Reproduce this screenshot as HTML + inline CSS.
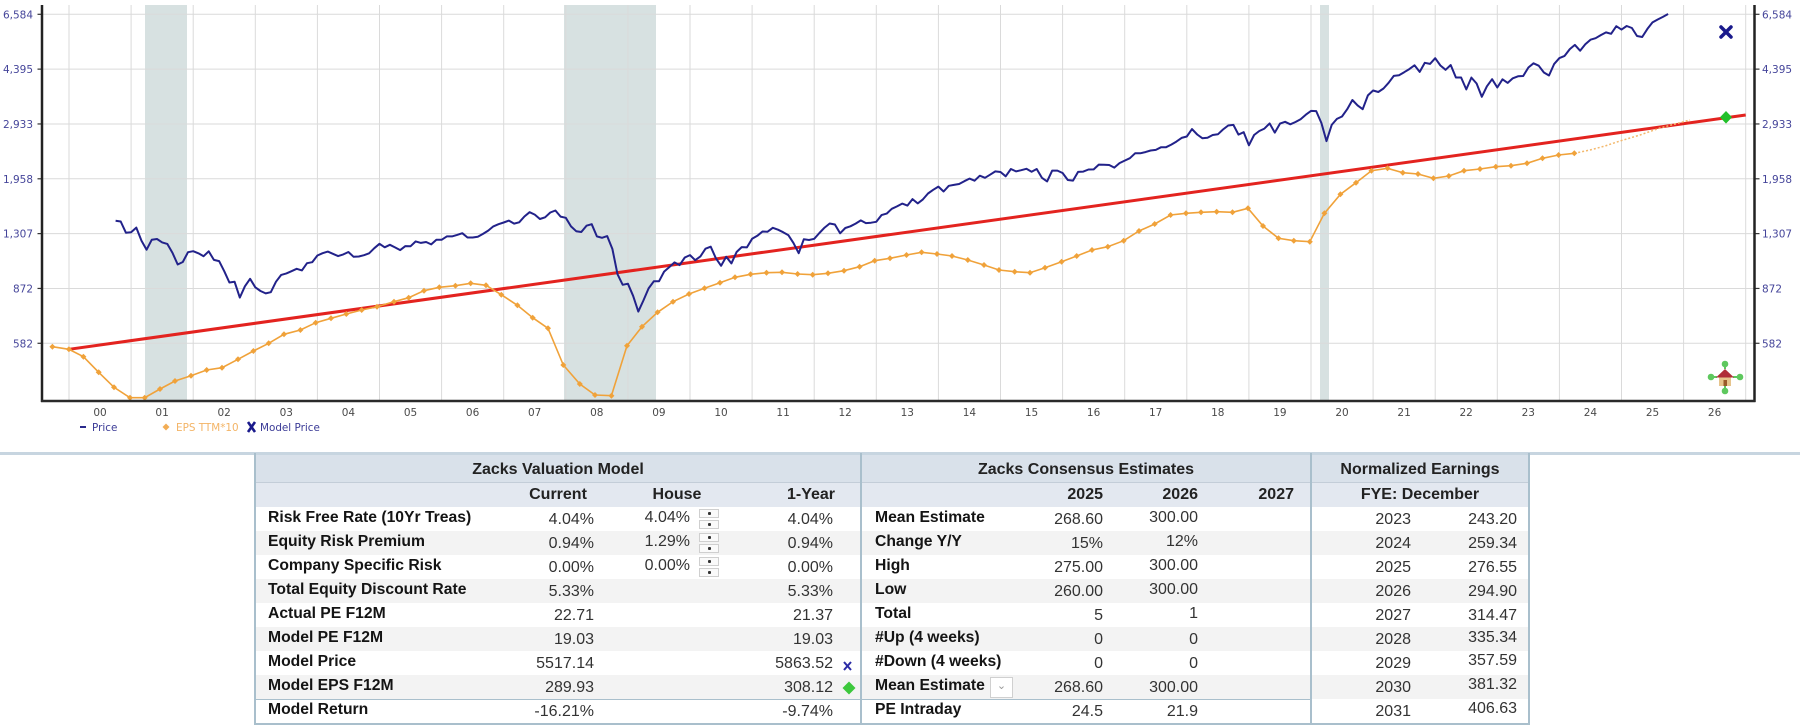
<!DOCTYPE html>
<html><head><meta charset="utf-8">
<style>
html,body{margin:0;padding:0;background:#fff;}
body{width:1800px;height:726px;overflow:hidden;position:relative;font-family:"Liberation Sans",Arial,sans-serif;}
.t{position:absolute;white-space:nowrap;line-height:1;}
.l{font-weight:bold;font-size:15.7px;color:#141414;}
.v{font-size:16px;color:#333;text-align:right;width:120px;}
.h{font-weight:bold;font-size:16px;color:#222;text-align:center;}
.box{position:absolute;}
.sp{position:absolute;width:20px;height:9px;background:#fafafa;border:1px solid #cfcfcf;box-sizing:border-box;}
.sp:after{content:"";position:absolute;left:8px;top:2px;width:3px;height:3px;background:#333;border-radius:1px;}
</style></head><body>

<svg id="ch" width="1800" height="450" style="position:absolute;left:0;top:0" xmlns="http://www.w3.org/2000/svg">
  <g fill="#d7e1e1">
    <rect x="145" y="5" width="42" height="396"/>
    <rect x="564" y="5" width="92" height="396"/>
    <rect x="1320" y="5" width="9" height="396"/>
  </g>
  <g id="grid" stroke="#dadada" stroke-width="1"></g>
  <g id="labels" font-family="'DejaVu Sans',Verdana,sans-serif" font-size="10.5"></g>
  <line x1="69" y1="349.3" x2="1745.7" y2="115" stroke="#e3231f" stroke-width="3"/>
  <polyline id="dot" fill="none" stroke="#f3b86c" stroke-width="1.5" stroke-dasharray="2,2"
    points="1574.3,153.3 1590,150 1605,146 1620,141 1640,135 1660,128 1690,120"/>
  <polyline id="eps" fill="none" stroke="#f0a23a" stroke-width="1.6" points=""/>
  <g id="epsm" fill="#f0a23a"></g>
  <path id="price" fill="none" stroke="#22228a" stroke-width="2" stroke-linejoin="round" d=""/>
  <!-- axes -->
  <line x1="42" y1="5" x2="42" y2="402" stroke="#222" stroke-width="2.5"/>
  <line x1="1754.5" y1="5" x2="1754.5" y2="402" stroke="#222" stroke-width="2.5"/>
  <line x1="41" y1="401" x2="1755.5" y2="401" stroke="#2a2a2a" stroke-width="2.5"/>
  <!-- model price X -->
  <g stroke="#1a1a8c" stroke-width="3.5" stroke-linecap="round">
    <line x1="1721" y1="27" x2="1731" y2="37"/><line x1="1731" y1="27" x2="1721" y2="37"/>
  </g>
  <polygon points="1726,111 1732,117.3 1726,123.6 1720,117.3" fill="#22c02a"/>
  <!-- home/pan icon -->
  <g>
    <g fill="#5ec85e">
      <circle cx="1725" cy="364" r="3.3"/><circle cx="1711" cy="377" r="3.3"/>
      <circle cx="1740" cy="377" r="3.3"/><circle cx="1725" cy="391" r="3.3"/>
    </g>
    <g stroke="#5ec85e" stroke-width="2">
      <line x1="1725" y1="366" x2="1725" y2="369"/><line x1="1714" y1="377" x2="1717" y2="377"/>
      <line x1="1733" y1="377" x2="1737" y2="377"/><line x1="1725" y1="386" x2="1725" y2="389"/>
    </g>
    <rect x="1719" y="376" width="12" height="10" fill="#e6c48c"/>
    <polygon points="1716,377.5 1725,369 1734,377.5" fill="#b02e38"/>
    <rect x="1723.5" y="380" width="3.5" height="6" fill="#9a5a2a"/>
  </g>
  <!-- legend -->
  <g font-family="'DejaVu Sans',Verdana,sans-serif" font-size="10.4">
    <line x1="80" y1="427" x2="86" y2="427" stroke="#2a2a8c" stroke-width="2"/>
    <text x="92" y="431" fill="#3a3a96">Price</text>
    <polygon points="166,423.5 169.5,427 166,430.5 162.5,427" fill="#f2ad55"/>
    <text x="176" y="431" fill="#f3b466">EPS TTM*10</text>
    <g stroke="#1a1a8c" stroke-width="2.6"><line x1="248" y1="422" x2="255" y2="432"/><line x1="255" y1="422" x2="248" y2="432"/></g>
    <text x="260" y="431" fill="#3a3a96">Model Price</text>
  </g>
</svg>

<!-- separator -->
<div class="box" style="left:0;top:452px;width:1800px;height:3px;background:#c7d5e0"></div>

<!-- table backgrounds -->
<div class="box" style="left:256px;top:455px;width:1272px;height:27px;background:#d9e1ea"></div>
<div class="box" style="left:256px;top:482px;width:1272px;height:1px;background:#c3cdd8"></div>
<div class="box" style="left:256px;top:483px;width:1272px;height:24px;background:#e3e8f0"></div>
<div class="box" style="left:256px;top:531px;width:1272px;height:24px;background:#f3f3f3"></div>
<div class="box" style="left:256px;top:579px;width:1272px;height:24px;background:#f3f3f3"></div>
<div class="box" style="left:256px;top:627px;width:1272px;height:24px;background:#f3f3f3"></div>
<div class="box" style="left:256px;top:675px;width:1272px;height:24px;background:#f3f3f3"></div>
<div class="box" style="left:256px;top:699px;width:1054px;height:1px;background:#a9bfcc"></div>
<!-- borders -->
<div class="box" style="left:254px;top:453px;width:2px;height:272px;background:#a9bfcc"></div>
<div class="box" style="left:860px;top:453px;width:2px;height:272px;background:#a9bfcc"></div>
<div class="box" style="left:1310px;top:453px;width:2px;height:272px;background:#a9bfcc"></div>
<div class="box" style="left:1528px;top:453px;width:2px;height:272px;background:#a9bfcc"></div>
<div class="box" style="left:254px;top:723px;width:1276px;height:2px;background:#a9bfcc"></div>

<!-- headers -->
<div class="t h" style="left:256px;width:604px;top:462px">Zacks Valuation Model</div>
<div class="t h" style="left:862px;width:448px;top:462px">Zacks Consensus Estimates</div>
<div class="t h" style="left:1312px;width:216px;top:462px">Normalized Earnings</div>
<div class="t h" style="left:508px;width:100px;top:487px">Current</div>
<div class="t h" style="left:627px;width:100px;top:487px">House</div>
<div class="t h" style="left:761px;width:100px;top:487px">1-Year</div>
<div class="t h" style="left:1003px;width:100px;top:487px;text-align:right">2025</div>
<div class="t h" style="left:1098px;width:100px;top:487px;text-align:right">2026</div>
<div class="t h" style="left:1194px;width:100px;top:487px;text-align:right">2027</div>
<div class="t h" style="left:1312px;width:216px;top:487px">FYE: December</div>

<!-- table 1 -->
<div class="t l" style="left:268px;top:510px">Risk Free Rate (10Yr Treas)</div>
<div class="t l" style="left:268px;top:534px">Equity Risk Premium</div>
<div class="t l" style="left:268px;top:558px">Company Specific Risk</div>
<div class="t l" style="left:268px;top:582px">Total Equity Discount Rate</div>
<div class="t l" style="left:268px;top:606px">Actual PE F12M</div>
<div class="t l" style="left:268px;top:630px">Model PE F12M</div>
<div class="t l" style="left:268px;top:654px">Model Price</div>
<div class="t l" style="left:268px;top:678px">Model EPS F12M</div>
<div class="t l" style="left:268px;top:702px">Model Return</div>

<div class="t v" style="left:474px;top:512px">4.04%</div>
<div class="t v" style="left:474px;top:536px">0.94%</div>
<div class="t v" style="left:474px;top:560px">0.00%</div>
<div class="t v" style="left:474px;top:584px">5.33%</div>
<div class="t v" style="left:474px;top:608px">22.71</div>
<div class="t v" style="left:474px;top:632px">19.03</div>
<div class="t v" style="left:474px;top:656px">5517.14</div>
<div class="t v" style="left:474px;top:680px">289.93</div>
<div class="t v" style="left:474px;top:704px">-16.21%</div>

<div class="t v" style="left:570px;top:510px">4.04%</div>
<div class="t v" style="left:570px;top:534px">1.29%</div>
<div class="t v" style="left:570px;top:558px">0.00%</div>
<div class="sp" style="left:699px;top:509px"></div><div class="sp" style="left:699px;top:520px"></div>
<div class="sp" style="left:699px;top:533px"></div><div class="sp" style="left:699px;top:544px"></div>
<div class="sp" style="left:699px;top:557px"></div><div class="sp" style="left:699px;top:568px"></div>

<div class="t v" style="left:713px;top:512px">4.04%</div>
<div class="t v" style="left:713px;top:536px">0.94%</div>
<div class="t v" style="left:713px;top:560px">0.00%</div>
<div class="t v" style="left:713px;top:584px">5.33%</div>
<div class="t v" style="left:713px;top:608px">21.37</div>
<div class="t v" style="left:713px;top:632px">19.03</div>
<div class="t v" style="left:713px;top:656px">5863.52</div>
<div class="t v" style="left:713px;top:680px">308.12</div>
<div class="t v" style="left:713px;top:704px">-9.74%</div>
<svg class="box" style="left:842px;top:660px" width="12" height="12"><g stroke="#2b2ba6" stroke-width="2"><line x1="2" y1="2" x2="9" y2="10"/><line x1="9" y1="2" x2="2" y2="10"/></g></svg>
<svg class="box" style="left:842px;top:681px" width="14" height="14"><polygon points="7,0.5 13.5,7 7,13.5 0.5,7" fill="#3cc83c"/></svg>

<!-- table 2 -->
<div class="t l" style="left:875px;top:510px">Mean Estimate</div>
<div class="t l" style="left:875px;top:534px">Change Y/Y</div>
<div class="t l" style="left:875px;top:558px">High</div>
<div class="t l" style="left:875px;top:582px">Low</div>
<div class="t l" style="left:875px;top:606px">Total</div>
<div class="t l" style="left:875px;top:630px">#Up (4 weeks)</div>
<div class="t l" style="left:875px;top:654px">#Down (4 weeks)</div>
<div class="t l" style="left:875px;top:678px">Mean Estimate</div>
<div class="t l" style="left:875px;top:702px">PE Intraday</div>
<div class="box" style="left:990px;top:677px;width:23px;height:21px;border:1px solid #d0d0d0;box-sizing:border-box;background:#fff;color:#999;font-size:11px;text-align:center;line-height:17px">&#8964;</div>

<div class="t v" style="left:983px;top:512px">268.60</div>
<div class="t v" style="left:983px;top:536px">15%</div>
<div class="t v" style="left:983px;top:560px">275.00</div>
<div class="t v" style="left:983px;top:584px">260.00</div>
<div class="t v" style="left:983px;top:608px">5</div>
<div class="t v" style="left:983px;top:632px">0</div>
<div class="t v" style="left:983px;top:656px">0</div>
<div class="t v" style="left:983px;top:680px">268.60</div>
<div class="t v" style="left:983px;top:704px">24.5</div>

<div class="t v" style="left:1078px;top:510px">300.00</div>
<div class="t v" style="left:1078px;top:534px">12%</div>
<div class="t v" style="left:1078px;top:558px">300.00</div>
<div class="t v" style="left:1078px;top:582px">300.00</div>
<div class="t v" style="left:1078px;top:606px">1</div>
<div class="t v" style="left:1078px;top:632px">0</div>
<div class="t v" style="left:1078px;top:656px">0</div>
<div class="t v" style="left:1078px;top:680px">300.00</div>
<div class="t v" style="left:1078px;top:704px">21.9</div>

<!-- table 3 -->
<div class="t v" style="left:1291px;top:512px">2023</div>
<div class="t v" style="left:1291px;top:536px">2024</div>
<div class="t v" style="left:1291px;top:560px">2025</div>
<div class="t v" style="left:1291px;top:584px">2026</div>
<div class="t v" style="left:1291px;top:608px">2027</div>
<div class="t v" style="left:1291px;top:632px">2028</div>
<div class="t v" style="left:1291px;top:656px">2029</div>
<div class="t v" style="left:1291px;top:680px">2030</div>
<div class="t v" style="left:1291px;top:704px">2031</div>

<div class="t v" style="left:1397px;top:512px">243.20</div>
<div class="t v" style="left:1397px;top:536px">259.34</div>
<div class="t v" style="left:1397px;top:560px">276.55</div>
<div class="t v" style="left:1397px;top:584px">294.90</div>
<div class="t v" style="left:1397px;top:608px">314.47</div>
<div class="t v" style="left:1397px;top:630px">335.34</div>
<div class="t v" style="left:1397px;top:653px">357.59</div>
<div class="t v" style="left:1397px;top:677px">381.32</div>
<div class="t v" style="left:1397px;top:701px">406.63</div>

<script>
(function(){
var NS="http://www.w3.org/2000/svg";
function el(n,a,p){var e=document.createElementNS(NS,n);for(var k in a)e.setAttribute(k,a[k]);if(p)p.appendChild(e);return e;}
var grid=document.getElementById('grid'),lab=document.getElementById('labels');
var ticks=["6,584","4,395","2,933","1,958","1,307","872","582"];
for(var i=0;i<7;i++){
  var y=14.3+54.83*i;
  el('line',{x1:42,y1:y,x2:1754,y2:y},grid);
  el('line',{x1:37.5,y1:y,x2:42,y2:y,stroke:'#333','stroke-width':1.2},lab);
  el('line',{x1:1755,y1:y,x2:1759.5,y2:y,stroke:'#333','stroke-width':1.2},lab);
  var t=el('text',{x:33,y:y+4,'text-anchor':'end',fill:'#45459a'},lab);t.textContent=ticks[i];
  var t2=el('text',{x:1762,y:y+4,fill:'#45459a'},lab);t2.textContent=ticks[i];
}
for(var k=0;k<=27;k++){
  var x=69+62.1*k;
  el('line',{x1:x,y1:5,x2:x,y2:401},grid);
  if(k<27){var tx=el('text',{x:x+31,y:416,'text-anchor':'middle',fill:'#4a4a4a'},lab);tx.textContent=(k<10?'0':'')+k;}
}
var P=[1436.5,1429.4,1315.2,1320.3,
1366.0,1239.9,1160.3,1249.5,1255.8,1224.4,1211.2,1133.6,1040.9,1059.8,1139.5,1148.1,
1130.2,1106.7,1147.4,1076.9,1067.1,989.8,911.6,916.1,815.3,885.8,936.3,879.8,
855.7,841.2,848.2,916.9,963.6,974.5,990.3,1008.0,996.0,1050.7,1058.2,1111.9,
1131.1,1144.9,1126.2,1107.3,1120.7,1140.8,1101.7,1104.2,1114.6,1130.2,1173.8,1211.9,
1181.3,1203.6,1180.6,1156.9,1191.5,1191.3,1234.2,1220.3,1228.8,1207.0,1249.5,1248.3,
1280.1,1280.7,1294.9,1310.6,1270.1,1270.2,1276.7,1303.8,1335.9,1377.9,1400.6,1418.3,
1438.2,1406.8,1420.9,1482.4,1530.6,1503.4,1455.3,1474.0,1526.8,1549.4,1481.1,1468.4,
1378.6,1330.6,1322.7,1385.6,1400.4,1280.0,1267.4,1282.8,1166.4,968.8,896.2,903.3,
825.9,735.1,797.9,872.8,919.1,919.3,987.5,1020.6,1057.1,1036.2,1095.6,1115.1,
1073.9,1104.5,1169.4,1186.7,1089.4,1030.7,1101.6,1049.3,1141.2,1183.3,1180.6,1257.6,
1286.1,1327.2,1325.8,1363.6,1345.2,1320.6,1292.3,1218.9,1131.4,1253.3,1247.0,1257.6,
1312.4,1365.7,1408.5,1397.9,1310.3,1362.2,1379.3,1406.6,1440.7,1412.2,1416.2,1426.2,
1498.1,1514.7,1569.2,1597.6,1630.7,1606.3,1685.7,1633.0,1681.6,1756.5,1805.8,1848.4,
1782.6,1859.5,1872.3,1883.9,1923.6,1960.2,1930.7,2003.4,1972.3,2018.1,2067.6,2058.9,
1995.0,2104.5,2067.9,2085.5,2107.4,2063.1,2103.8,1972.2,1920.0,2079.4,2080.4,2043.9,
1940.2,1932.2,2059.7,2065.3,2097.0,2098.9,2173.6,2171.0,2168.3,2126.2,2198.8,2238.8,
2278.9,2363.6,2362.7,2384.2,2411.8,2423.4,2470.3,2471.7,2519.4,2575.3,2647.6,2673.6,
2823.8,2713.8,2640.9,2648.1,2705.3,2718.4,2816.3,2901.5,2914.0,2711.7,2760.2,2506.9,
2704.1,2784.5,2834.4,2945.8,2752.1,2941.8,2980.4,2926.5,2976.7,3037.6,3141.0,3230.8,
3225.5,2954.2,2584.6,2912.4,3044.3,3100.3,3271.1,3500.3,3363.0,3270.0,3621.6,3756.1,
3714.2,3811.2,3972.9,4181.2,4204.1,4297.5,4395.3,4522.7,4307.5,4605.4,4567.0,4766.2,
4515.6,4373.9,4530.4,4131.9,4132.2,3785.4,4130.3,3955.0,3585.6,3872.0,4080.1,3839.5,
4076.6,3970.2,4109.3,4169.5,4179.8,4450.4,4589.0,4507.7,4288.1,4193.8,4567.8,4769.8,
4845.7,5096.3,5254.4,5035.7,5277.5,5460.5,5522.3,5648.4,5762.5,5705.5,6032.4,5881.6,
6040.5,5954.5,5611.9,5569.1,5911.7,6205.0,6339.4,6460.3,6600];
var d='';
for(var j=0;j<P.length;j++){
  var tt=2000+(9+j)/12, x=69+62.1*(tt-2000), y=343.3-135.6*Math.log(P[j]/582);
  d+=(j?'L':'M')+x.toFixed(1)+','+y.toFixed(1);
}
document.getElementById('price').setAttribute('d',d);
var E=[52.4,346.7,68.9,349.3,83.4,356.7,98.7,372.3,114,387.3,130,397.7,144.7,397.7,160,389,175,381,191,375.7,206.7,370,222,367.7,238,359.3,253.4,351,268.7,343.3,284,334.3,300.4,330,315.7,322.7,331,318.3,346.3,314,361.7,310,377,306.7,394,301.7,408.7,297.7,424,290.7,439.3,287.3,455.4,285.7,470.7,283.3,486,285.3,501.3,294.7,517.4,305.3,532.7,317.7,548,328.3,563.3,365,579.8,384,595,395,
611.4,395.7,627,345.7,642,326.7,657.6,312.3,673,301.7,689,294,704.5,288.3,720,282.7,735,277.3,750.6,274.3,766.5,272.7,782,272.3,797.6,274,812.7,274.7,828,273.3,844,270.7,859.6,266.7,874.7,260.7,890,258.3,906.5,255,921.6,252.3,937,254,952,256,967.8,260,984,265,999,270,1014.7,271.7,1030,272.7,1045,267.7,1061.6,261.7,1076.7,256,1092,250,1107.8,246.7,1123.7,240.7,1139,231,1154.7,224,1170.6,215,1186,213.3,1201,212.3,1216.7,211.7,
1232.5,212.3,1248,208.3,1263,226,1278.5,238.3,1293.8,240.7,1309.8,241.7,1324.4,213.3,1340.4,194.3,1356,182.7,1371.4,170.7,1387.5,168.3,1402.8,172.7,1418,174,1433.4,178.3,1448.8,176,1464,170.7,1480,169,1495.8,166.7,1511,165.7,1527,163.3,1542.5,158.3,1558.6,155,1574.3,153.3];
var pts='',m=document.getElementById('epsm');
for(var q=0;q<E.length;q+=2){
  var ex=E[q],ey=E[q+1];pts+=ex+','+ey+' ';
  el('polygon',{points:ex+','+(ey-3)+' '+(ex+3)+','+ey+' '+ex+','+(ey+3)+' '+(ex-3)+','+ey},m);
}
document.getElementById('eps').setAttribute('points',pts);
})();
</script>
</body></html>
